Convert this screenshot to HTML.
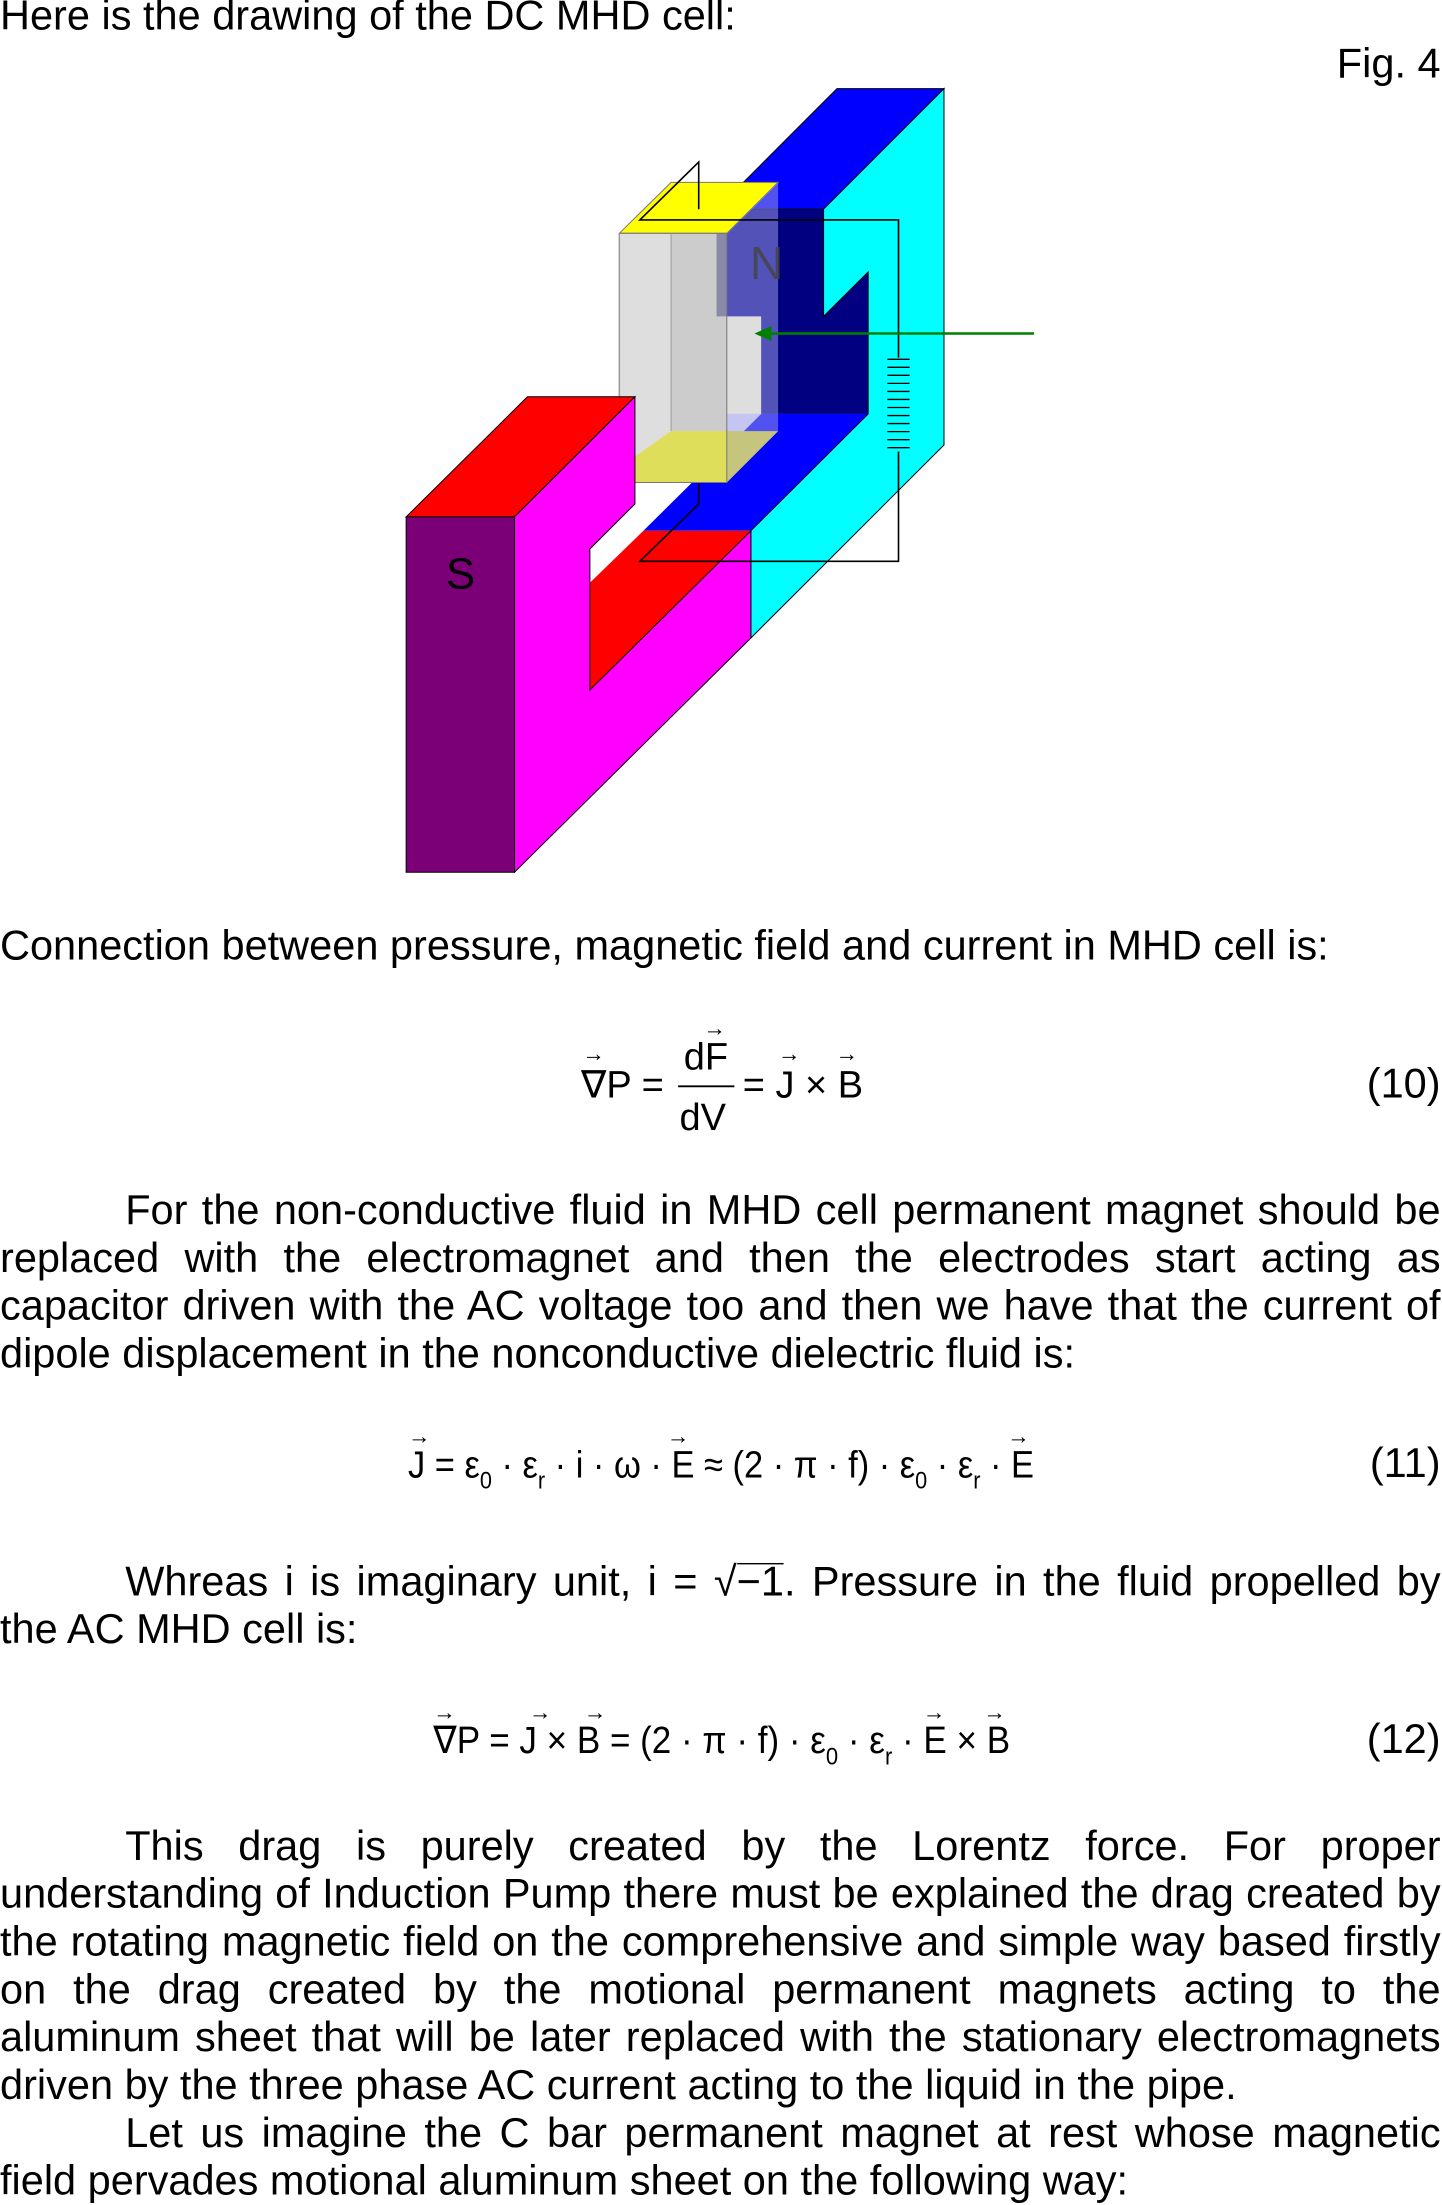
<!DOCTYPE html>
<html><head><meta charset="utf-8"><style>
html,body{margin:0;padding:0;background:#fff;width:1442px;height:2205px;overflow:hidden;position:relative}
svg{display:block;position:absolute;left:0;top:0}
text{font-family:"Liberation Sans",Arial,sans-serif;font-size:27px;fill:#000}
.ar{font-size:16px}
.sub{font-size:17px}
#t{position:absolute;left:0;top:0;width:1025px;height:1567px;transform:scale(1.40683);transform-origin:0 0;font-family:"Liberation Sans",Arial,sans-serif;font-size:29.5px;color:#000}
#t div{position:absolute;white-space:nowrap;line-height:34px;height:34px}
#t .j{text-align:justify;text-align-last:justify;white-space:normal;overflow:hidden}
.ov{border-top:1.3px solid #000;line-height:26px;display:inline-block}
</style></head><body>
<svg width="1442" height="2205" viewBox="0 0 1025 1567" xmlns="http://www.w3.org/2000/svg">
<g transform="translate(270,42.6) scale(0.317,0.381)">
 <rect x="755" y="278" width="340" height="382" fill="#000080"/>
 <polygon points="755,278 1025,53 1265,53 995,278" fill="#0000ff" stroke="#000" stroke-width="1" vector-effect="non-scaling-stroke"/>
 <polygon points="591,878 832,878 1095,660 855,660" fill="#0000ff"/>
 <polygon points="995,278 1265,53 1265,718 832,1078 832,878 1095,660 1095,395 995,478" fill="#00ffff" stroke="#000" stroke-width="1" vector-effect="non-scaling-stroke"/>
 <polygon points="537,788 653,692 893,692 778,788" fill="#ffff00"/>
 <rect x="537" y="323" width="116" height="465" fill="#dedede"/>
 <rect x="653" y="323" width="125" height="465" fill="#cccccc"/>
 <rect x="755" y="323" width="23" height="155" fill="#8a8aa8"/>
 <polygon points="537,760 653,692 778,692 778,788 572,788" fill="#dede5a"/>
 <polygon points="537,323 653,228 893,228 778,323" fill="#ffff00" stroke="#777" stroke-width="1" vector-effect="non-scaling-stroke"/>
 <polygon points="778,323 893,228 893,692 778,788" fill="rgba(150,150,230,0.55)"/>
 <rect x="778" y="478" width="77" height="182" fill="#dedede"/>
 <polyline points="537,323 778,323 778,788 572,788" fill="none" stroke="#777" stroke-width="1" vector-effect="non-scaling-stroke"/>
 <line x1="537" y1="323" x2="537" y2="760" stroke="#999" stroke-width="1.5" vector-effect="non-scaling-stroke"/>
 <line x1="653" y1="323" x2="653" y2="692" stroke="#999" stroke-width="1" vector-effect="non-scaling-stroke"/>
 <polygon points="59,852 302,852 572,628 331,628" fill="#ff0000" stroke="#000" stroke-width="1" vector-effect="non-scaling-stroke"/>
 <rect x="59" y="852" width="243" height="663" fill="#7b0077" stroke="#000" stroke-width="1" vector-effect="non-scaling-stroke"/>
 <polygon points="471,975 591,878 832,878 471,1175" fill="#ff0000"/>
 <polygon points="302,852 572,628 572,828 471,912 471,1175 832,878 832,1078 302,1515" fill="#ff00ff" stroke="#000" stroke-width="1" vector-effect="non-scaling-stroke"/>
 <polyline points="715,278 715,190 583,298 1163,298 1163,555" fill="none" stroke="#000" stroke-width="1.6" vector-effect="non-scaling-stroke"/>
 <polyline points="1163,730 1163,935 583,935 715,828 715,790" fill="none" stroke="#000" stroke-width="1.6" vector-effect="non-scaling-stroke"/>
 <g stroke="#000" stroke-width="2.5" vector-effect="non-scaling-stroke">
  <line x1="1138" y1="558" x2="1188" y2="558"/><line x1="1138" y1="573" x2="1188" y2="573"/>
  <line x1="1138" y1="588" x2="1188" y2="588"/><line x1="1138" y1="603" x2="1188" y2="603"/>
  <line x1="1138" y1="618" x2="1188" y2="618"/><line x1="1138" y1="633" x2="1188" y2="633"/>
  <line x1="1138" y1="648" x2="1188" y2="648"/><line x1="1138" y1="663" x2="1188" y2="663"/>
  <line x1="1138" y1="678" x2="1188" y2="678"/><line x1="1138" y1="693" x2="1188" y2="693"/>
  <line x1="1138" y1="708" x2="1188" y2="708"/><line x1="1138" y1="723" x2="1188" y2="723"/>
 </g>
 <line x1="1467" y1="510" x2="870" y2="510" stroke="#008000" stroke-width="2.5" vector-effect="non-scaling-stroke"/>
 <polygon points="840,510 878,496 878,524" fill="#008000"/>
</g>
<text x="317" y="418" style="font-size:31px">S</text>
<text x="533" y="198" style="font-size:33px;fill:#444;opacity:.8">N</text>

<text x="413" y="780">∇P = </text>
<text x="486" y="760">dF</text>
<line x1="482" y1="772" x2="522" y2="772" stroke="#000" stroke-width="1.3"/>
<text x="483" y="803">dV</text>
<text x="528" y="780">= J × B</text>
<text class="ar" x="414" y="754">→</text>
<text class="ar" x="500" y="736">→</text>
<text class="ar" x="553" y="754">→</text>
<text class="ar" x="594" y="754">→</text>

<text x="290" y="1050" textLength="445" lengthAdjust="spacingAndGlyphs">J = ε<tspan class="sub" dy="8">0</tspan><tspan dy="-8"> · ε</tspan><tspan class="sub" dy="8">r</tspan><tspan dy="-8"> · i · ω · E ≈ (2 · π · f) · ε</tspan><tspan class="sub" dy="8">0</tspan><tspan dy="-8"> · ε</tspan><tspan class="sub" dy="8">r</tspan><tspan dy="-8"> · E</tspan></text>
<text class="ar" x="290" y="1026">→</text>
<text class="ar" x="474" y="1026">→</text>
<text class="ar" x="716" y="1026">→</text>

<text x="308" y="1246" textLength="410" lengthAdjust="spacingAndGlyphs">∇P = J × B = (2 · π · f) · ε<tspan class="sub" dy="8">0</tspan><tspan dy="-8"> · ε</tspan><tspan class="sub" dy="8">r</tspan><tspan dy="-8"> · E × B</tspan></text>
<text class="ar" x="308" y="1222">→</text>
<text class="ar" x="376" y="1222">→</text>
<text class="ar" x="415" y="1222">→</text>
<text class="ar" x="656" y="1222">→</text>
<text class="ar" x="699" y="1222">→</text>
</svg>

<div id="t">
<div style="left:0;top:-5px">Here is the drawing of the DC MHD cell:</div>
<div style="right:1px;top:29px">Fig. 4</div>
<div style="left:0;top:656px">Connection between pressure, magnetic field and current in MHD cell is:</div>
<div style="right:1px;top:754px">(10)</div>
<div class="j" style="left:89px;width:935px;top:844px">For the non-conductive fluid in MHD cell permanent magnet should be</div>
<div class="j" style="left:0;width:1024px;top:878px">replaced with the electromagnet and then the electrodes start acting as</div>
<div class="j" style="left:0;width:1024px;top:912px">capacitor driven with the AC voltage too and then we have that the current of</div>
<div style="left:0;top:946px">dipole displacement in the nonconductive dielectric fluid is:</div>
<div style="right:1px;top:1024px">(11)</div>
<div class="j" style="left:89px;width:935px;top:1108px">Whreas i is imaginary unit, i = √<span class="ov">−1</span>. Pressure in the fluid propelled by</div>
<div style="left:0;top:1142px">the AC MHD cell is:</div>
<div style="right:1px;top:1220px">(12)</div>
<div class="j" style="left:89px;width:935px;top:1296px">This drag is purely created by the Lorentz force. For proper</div>
<div class="j" style="left:0;width:1024px;top:1330px">understanding of Induction Pump there must be explained the drag created by</div>
<div class="j" style="left:0;width:1024px;top:1364px">the rotating magnetic field on the comprehensive and simple way based firstly</div>
<div class="j" style="left:0;width:1024px;top:1398px">on the drag created by the motional permanent magnets acting to the</div>
<div class="j" style="left:0;width:1024px;top:1432px">aluminum sheet that will be later replaced with the stationary electromagnets</div>
<div style="left:0;top:1466px">driven by the three phase AC current acting to the liquid in the pipe.</div>
<div class="j" style="left:89px;width:935px;top:1500px">Let us imagine the C bar permanent magnet at rest whose magnetic</div>
<div style="left:0;top:1534px">field pervades motional aluminum sheet on the following way:</div>
</div>
</body></html>
